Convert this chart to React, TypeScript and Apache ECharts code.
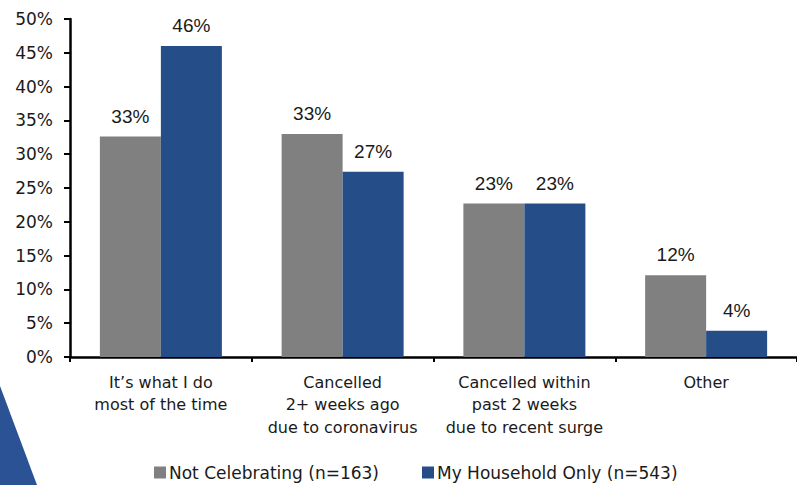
import React, { useEffect, useRef } from "react";
import * as echarts from "echarts";

// Reasons for celebrating only with one's household
const categories = [
  "It’s what I do\nmost of the time",
  "Cancelled\n2+ weeks ago\ndue to coronavirus",
  "Cancelled within\npast 2 weeks\ndue to recent surge",
  "Other",
];
const notCelebrating = [32.6, 33.0, 22.7, 12.1];
const householdOnly = [46.0, 27.4, 22.7, 3.9];
const seriesNames = ["Not Celebrating (n=163)", "My Household Only (n=543)"];

const GRAY = "#808080";
const BLUE = "#254E89";
const TEXT = "#1a1a1a";
const AXIS_FONT = "DejaVu Sans";
const LABEL_FONT = "Liberation Sans";

export default function App() {
  const ref = useRef<HTMLDivElement>(null);

  useEffect(() => {
    if (!ref.current) return;
    const chart = echarts.init(ref.current, undefined, { renderer: "svg" });

    const valueLabel = {
      show: true,
      position: "top" as const,
      distance: 11,
      color: TEXT,
      fontFamily: LABEL_FONT,
      fontSize: 19,
      formatter: (p: any) => `${Math.round(p.value)}%`,
    };

    chart.setOption({
      animation: false,
      backgroundColor: "#ffffff",
      graphic: [
        {
          type: "polygon",
          z: -1,
          shape: { points: [[0, 386], [0, 485], [37, 485]] },
          style: { fill: "#2A5295" },
        },
      ],
      grid: { left: 70, right: -3, top: 19, bottom: 128 },
      legend: {
        left: 154,
        top: 463,
        padding: 0,
        itemWidth: 12,
        itemHeight: 12,
        itemGap: 43,
        icon: "rect",
        textStyle: {
          color: TEXT,
          fontFamily: AXIS_FONT,
          fontSize: 17,
          lineHeight: 19,
          padding: [0, 0, 0, -2],
        },
        data: seriesNames,
      },
      xAxis: {
        type: "category",
        data: categories,
        axisLine: { lineStyle: { color: "#000", width: 2.5 } },
        axisTick: { show: true, length: 5, lineStyle: { color: "#000", width: 2 } },
        axisLabel: {
          color: TEXT,
          fontFamily: AXIS_FONT,
          fontSize: 16,
          lineHeight: 22.5,
          margin: 14,
          interval: 0,
        },
      },
      yAxis: {
        type: "value",
        min: 0,
        max: 50,
        interval: 5,
        splitLine: { show: false },
        axisLine: { show: true, lineStyle: { color: "#000", width: 2.5 } },
        axisTick: { show: true, length: 6, lineStyle: { color: "#000", width: 2 } },
        axisLabel: {
          color: TEXT,
          fontFamily: AXIS_FONT,
          fontSize: 17,
          margin: 17,
          formatter: "{value}%",
        },
      },
      series: [
        {
          name: seriesNames[0],
          type: "bar",
          data: notCelebrating,
          barWidth: 61,
          barGap: "0%",
          itemStyle: { color: GRAY },
          label: valueLabel,
        },
        {
          name: seriesNames[1],
          type: "bar",
          data: householdOnly,
          barWidth: 61,
          barGap: "0%",
          itemStyle: { color: BLUE },
          label: valueLabel,
        },
      ],
    });

    return () => chart.dispose();
  }, []);

  return (
    <div
      ref={ref}
      style={{ position: "fixed", left: 0, top: 0, width: 797, height: 485 }}
    />
  );
}
